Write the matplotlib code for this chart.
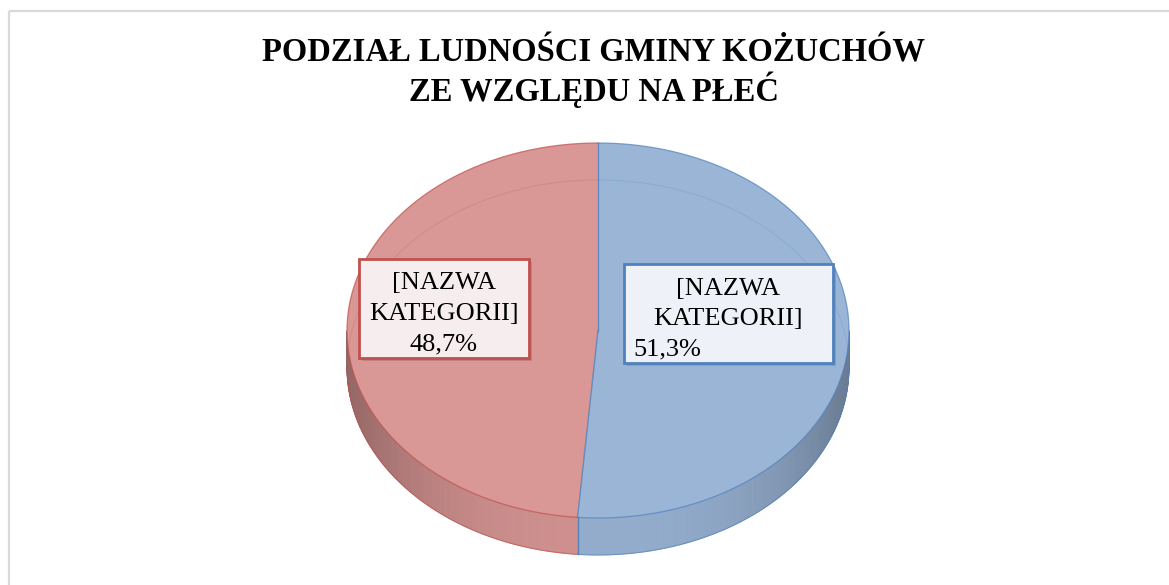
import numpy as np
import matplotlib
matplotlib.use("Agg")
import matplotlib.pyplot as plt
from matplotlib.patches import Polygon, Rectangle

# ---- data ----
categories = ["[NAZWA\nKATEGORII]", "[NAZWA\nKATEGORII]"]
values = [51.3, 48.7]
top_colors = ["#9BB5D7", "#D99795"]
edge_colors = ["#4F81BD", "#C0504D"]
box_fill = ["#EEF2F8", "#F6EEEE"]
title_lines = ["PODZIAŁ LUDNOŚCI GMINY KOŻUCHÓW", "ZE WZGLĘDU NA PŁEĆ"]

W, H = 1169, 585
fig = plt.figure(figsize=(W / 100, H / 100), dpi=100)
ax = fig.add_axes([0, 0, 1, 1])
ax.set_xlim(0, W)
ax.set_ylim(H, 0)
ax.axis("off")

# frame
ax.add_patch(Rectangle((8.5, 10.5), W, H, fill=False, edgecolor="#D9D9D9", lw=1.6))

# pie geometry (pixel space)
cx, cy, a, b, depth = 598.0, 330.5, 251.0, 187.5, 37.0


def P(theta_deg, dy=0.0):
    t = np.radians(theta_deg)
    return cx + a * np.sin(t), cy - b * np.cos(t) + dy


fracs = np.array(values) / np.sum(values)
bounds = np.concatenate([[0], np.cumsum(fracs) * 360.0])


def shade(rgb, f):
    return tuple(np.clip(np.array(rgb) * f, 0, 1))


# side walls (front half: theta in [90, 270])
for i in range(len(values)):
    s, e = bounds[i], bounds[i + 1]
    lo, hi = max(s, 90.0), min(e, 270.0)
    if hi <= lo:
        continue
    base = matplotlib.colors.to_rgb(top_colors[i])
    n = max(int((hi - lo) * 2), 2)
    ts = np.linspace(lo, hi, n + 1)
    for k in range(n):
        t0, t1 = ts[k], ts[k + 1]
        tm = 0.5 * (t0 + t1)
        f = 0.95 - 0.27 * abs(np.sin(np.radians(tm))) ** 2.5
        x0, y0 = P(t0)
        x1, y1 = P(t1)
        poly = [(x0, y0), (x1, y1), (x1, y1 + depth), (x0, y0 + depth)]
        ax.add_patch(Polygon(poly, closed=True, facecolor=shade(base, f),
                             edgecolor=shade(base, f), lw=0.6, zorder=1))
    # bottom edge of side
    tt = np.linspace(lo, hi, 200)
    xs, ys = P(tt, depth)
    ax.plot(xs, ys, color=edge_colors[i], lw=0.8, alpha=0.6, zorder=2)

# seam on side
for bd in bounds[1:-1]:
    if 90 <= bd <= 270:
        x0, y0 = P(bd)
        ax.plot([x0, x0], [y0, y0 + depth], color=edge_colors[0], lw=1.0, zorder=3)

# top faces
for i in range(len(values)):
    s, e = bounds[i], bounds[i + 1]
    tt = np.linspace(s, e, 400)
    xs, ys = P(tt)
    pts = [(cx, cy)] + list(zip(xs, ys))
    ax.add_patch(Polygon(pts, closed=True, facecolor=top_colors[i], edgecolor="none", zorder=4))
    ax.plot(xs, ys, color=edge_colors[i], lw=0.9, alpha=0.7, zorder=5)

# faint back bottom edge seen through
for i in range(len(values)):
    s, e = bounds[i], bounds[i + 1]
    segs = [(max(s, 270.0), min(e, 360.0)), (max(s, 0.0), min(e, 90.0))]
    for lo, hi in segs:
        if hi > lo:
            tt = np.linspace(lo, hi, 200)
            xs, ys = P(tt, depth)
            ax.plot(xs, ys, color=edge_colors[i], lw=0.8, alpha=0.18, zorder=5)

# slice dividers
for bd in bounds[:-1]:
    x0, y0 = P(bd)
    ax.plot([cx, x0], [cy, y0], color=edge_colors[0], lw=1.0, alpha=0.8, zorder=6)

# labels
fs = 19
font = "Liberation Serif"


def fmt(v):
    return f"{v:.1f}%".replace(".", ",")


# box geometry: (left, top, right, bottom)
boxes = [(624, 264, 833, 363), (359, 259, 529, 358)]
for i in range(len(values)):
    l, t, r, btm = boxes[i]
    ax.add_patch(Rectangle((l + 3, t + 3), r - l, btm - t, facecolor="#000000",
                           alpha=0.12, edgecolor="none", zorder=7))
    ax.add_patch(Rectangle((l, t), r - l, btm - t, facecolor=box_fill[i],
                           edgecolor=edge_colors[i], lw=2.0, zorder=8))
    lines = categories[i].split("\n")
    xc = 0.5 * (l + r)
    if i == 0:
        ys_l = [289, 319, 349]
        ax.text(xc, ys_l[0], lines[0], ha="center", va="center", fontsize=fs, family=font, zorder=9)
        ax.text(xc, ys_l[1], lines[1], ha="center", va="center", fontsize=fs, family=font, zorder=9)
        ax.text(l + 9, ys_l[2], fmt(values[i]), ha="left", va="center", fontsize=fs, family=font, zorder=9)
    else:
        ys_l = [283, 314, 344]
        ax.text(xc, ys_l[0], lines[0], ha="center", va="center", fontsize=fs, family=font, zorder=9)
        ax.text(xc, ys_l[1], lines[1], ha="center", va="center", fontsize=fs, family=font, zorder=9)
        ax.text(xc, ys_l[2], fmt(values[i]), ha="center", va="center", fontsize=fs, family=font, zorder=9)

# title
for txt, yb in zip(title_lines, [62, 101]):
    ax.text(594, yb, txt, ha="center", va="baseline", fontsize=23.5, fontweight="bold",
            family=font, zorder=9)

fig.savefig("out.png", dpi=100)
